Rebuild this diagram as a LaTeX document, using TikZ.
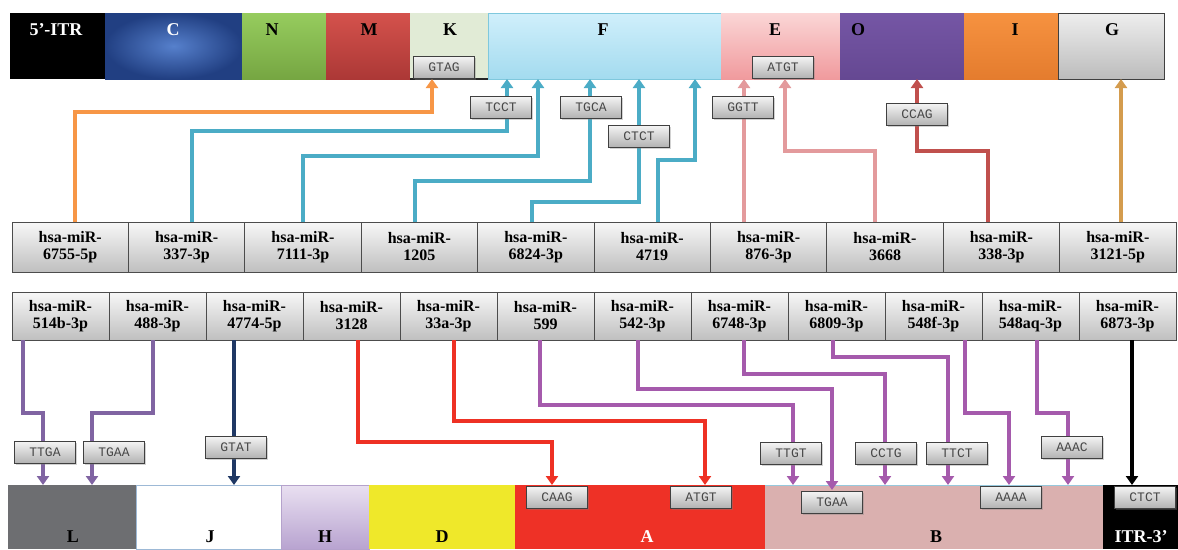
\documentclass[tikz,border=0pt]{standalone}
\usepackage{fontspec}
\setmainfont{Liberation Serif}
\newfontfamily\motiffont{Liberation Mono}
\usetikzlibrary{arrows.meta,shadows}
\definecolor{cOrange}{HTML}{F79646}
\definecolor{cTeal}{HTML}{4BACC6}
\definecolor{cPink}{HTML}{E39A9C}
\definecolor{cRed}{HTML}{C0504D}
\definecolor{cTan}{HTML}{D49C4E}
\definecolor{cPurple}{HTML}{8064A2}
\definecolor{cMagenta}{HTML}{A55AAC}
\definecolor{cNavy}{HTML}{1F3864}
\definecolor{cBright}{HTML}{EE3124}
\definecolor{cCin}{HTML}{5680CC}
\definecolor{cCout}{HTML}{213F82}
\definecolor{cBline}{HTML}{96C8DC}
\begin{document}
\begin{tikzpicture}[x=1pt,y=-1pt,
  seg/.style={anchor=north west,inner sep=0pt,outer sep=0pt},
  topseg/.style={seg,minimum height=66pt},
  botseg/.style={seg,minimum height=64pt},
  seglbl/.style={font=\bfseries\fontsize{18}{18}\selectfont,inner sep=0pt},
  mir/.style={draw=black!70,line width=0.8pt,top color=black!3,bottom color=black!25,inner sep=0pt,outer sep=0pt,align=center,font=\bfseries\fontsize{16}{17}\selectfont},
  motif/.style={draw=black!75,line width=0.9pt,top color=black!4,bottom color=black!30,drop shadow={shadow xshift=1.5pt,shadow yshift=-1.5pt,opacity=0.35},inner sep=0pt,outer sep=0pt,minimum width=61pt,minimum height=22pt,font=\motiffont\fontsize{13}{13}\selectfont,text=black!72},
  conn/.style={line width=4pt,-{Triangle[width=12pt,length=9pt]}}]
\useasboundingbox[fill=white] (0,0) rectangle (1178,549);

% ---------- top genome bar ----------
\node[topseg,fill=black,minimum width=95pt] (segITR) at (10,13) {};
\node[topseg,inner color=cCin,outer color=cCout,minimum width=137pt] (segC) at (105,13) {};
\node[topseg,top color={rgb,255:red,150;green,204;blue,94},bottom color={rgb,255:red,118;green,166;blue,66},minimum width=84pt] (segN) at (242,13) {};
\node[topseg,top color={rgb,255:red,212;green,82;blue,76},bottom color={rgb,255:red,172;green,56;blue,54},minimum width=84pt] (segM) at (326,13) {};
\node[topseg,fill={rgb,255:red,225;green,235;blue,214},minimum width=78pt] (segK) at (410,13) {};
\node[topseg,top color={rgb,255:red,208;green,239;blue,251},bottom color={rgb,255:red,163;green,219;blue,239},draw={rgb,255:red,127;green,200;blue,221},line width=0.6pt,minimum width=233pt] (segF) at (488,13) {};
\node[topseg,top color={rgb,255:red,251;green,214;blue,214},bottom color={rgb,255:red,240;green,154;blue,157},minimum width=119pt] (segE) at (721,13) {};
\node[topseg,top color={rgb,255:red,117;green,86;blue,165},bottom color={rgb,255:red,101;green,72;blue,146},minimum width=124pt] (segO) at (840,13) {};
\node[topseg,top color={rgb,255:red,246;green,146;blue,64},bottom color={rgb,255:red,228;green,124;blue,46},minimum width=94pt] (segI) at (964,13) {};
\node[topseg,top color={rgb,255:red,238;green,238;blue,238},bottom color={rgb,255:red,188;green,188;blue,188},draw=black!75,line width=1pt,minimum width=106pt] (segG) at (1058,13) {};
\draw[black!85,line width=2pt] (segK.south west) -- (segK.south east);

\node[seglbl,text=white] (lITR) at (56,30) {5’-ITR};
\node[seglbl,text=white] (lC) at (173,30) {C};
\node[seglbl] (lN) at (272,30) {N};
\node[seglbl] (lM) at (369,30) {M};
\node[seglbl] (lK) at (450,30) {K};
\node[seglbl] (lF) at (603,30) {F};
\node[seglbl] (lE) at (775,30) {E};
\node[seglbl] (lO) at (858,30) {O};
\node[seglbl] (lI) at (1015,30) {I};
\node[seglbl] (lG) at (1112,30) {G};

% ---------- bottom genome bar ----------
\node[botseg,fill={rgb,255:red,109;green,110;blue,113},minimum width=128pt] (segL) at (8,485) {};
\node[botseg,fill=white,draw={rgb,255:red,157;green,185;blue,214},line width=0.6pt,minimum width=145pt] (segJ) at (136,485) {};
\node[botseg,top color={rgb,255:red,233;green,224;blue,241},bottom color={rgb,255:red,184;green,163;blue,208},draw={rgb,255:red,181;green,162;blue,204},line width=0.6pt,minimum width=88pt] (segH) at (281,485) {};
\node[botseg,fill={rgb,255:red,239;green,232;blue,42},minimum width=146pt] (segD) at (369,485) {};
\node[botseg,fill={rgb,255:red,238;green,49;blue,38},minimum width=250pt] (segA) at (515,485) {};
\node[botseg,fill={rgb,255:red,218;green,176;blue,175},minimum width=338pt] (segB) at (765,485) {};
\node[botseg,fill=black,minimum width=75pt] (segI3) at (1103,485) {};
\draw[cBline,line width=1pt] (segB.north west) -- (segB.north east);

\node[seglbl] (lL) at (73,537) {L};
\node[seglbl] (lJ) at (210,537) {J};
\node[seglbl] (lH) at (325,537) {H};
\node[seglbl] (lD) at (442,537) {D};
\node[seglbl,text=white] (lA) at (647,537) {A};
\node[seglbl] (lB) at (936,537) {B};
\node[seglbl,text=white] (lI3) at (1141,537) {ITR-3’};

% ---------- miRNA rows ----------
\foreach \lab [count=\i] in {6755-5p,337-3p,7111-3p,1205,6824-3p,4719,876-3p,3668,338-3p,3121-5p}
  \node[mir,minimum width=116.4pt,minimum height=50pt] (a\i) at ({12+116.4*(\i-0.5)},247) {hsa-miR-\\\lab};
\foreach \lab [count=\i] in {514b-3p,488-3p,4774-5p,3128,33a-3p,599,542-3p,6748-3p,6809-3p,548f-3p,548aq-3p,6873-3p}
  \node[mir,minimum width=97pt,minimum height=48pt] (b\i) at ({12+97*(\i-0.5)},316) {hsa-miR-\\\lab};

% ---------- connectors to top bar ----------
\coordinate (s1) at ([xshift=4.8pt]a1.north);
\coordinate (s2) at ([xshift=5.4pt]a2.north);
\coordinate (s3) at (a3.north);
\coordinate (s4) at ([xshift=-4.4pt]a4.north);
\coordinate (s5) at ([xshift=-3.8pt]a5.north);
\coordinate (s6) at ([xshift=5.8pt]a6.north);
\coordinate (s7) at ([xshift=-24.6pt]a7.north);
\coordinate (s8) at ([xshift=-10pt]a8.north);
\coordinate (s9) at ([xshift=-13.4pt]a9.north);
\coordinate (s10) at ([xshift=3.2pt]a10.north);
\draw[conn,cOrange] (s1) -- ++(0,-110) -| ([xshift=-17pt]segK.south);
\draw[conn,cTeal] (s2) -- ++(0,-91) -| ([xshift=-97.5pt]segF.south);
\draw[conn,cTeal] (s3) -- ++(0,-66) -| ([xshift=-66.5pt]segF.south);
\draw[conn,cTeal] (s4) -- ++(0,-41) -| ([xshift=-14.5pt]segF.south);
\draw[conn,cTeal] (s5) -- ++(0,-20) -| ([xshift=34.5pt]segF.south);
\draw[conn,cTeal] (s6) -- ++(0,-62) -| ([xshift=90.5pt]segF.south);
\draw[conn,cPink] (s7) -- (s7 |- segE.south);
\draw[conn,cPink] (s8) -- ++(0,-71) -| ([xshift=4.5pt]segE.south);
\draw[conn,cRed] (s9) -- ++(0,-71) -| ([xshift=15pt]segO.south);
\draw[conn,cTan] (s10) -- (s10 |- segG.south);

% ---------- connectors to bottom bar ----------
\coordinate (t1) at ([xshift=-37.5pt]b1.south);
\coordinate (t2) at ([xshift=-4.5pt]b2.south);
\coordinate (t3) at ([xshift=-20.5pt]b3.south);
\coordinate (t4) at ([xshift=6.5pt]b4.south);
\coordinate (t5) at ([xshift=5.5pt]b5.south);
\coordinate (t6) at ([xshift=-5.5pt]b6.south);
\coordinate (t7) at ([xshift=-4.5pt]b7.south);
\coordinate (t8) at ([xshift=4.5pt]b8.south);
\coordinate (t9) at ([xshift=-3.5pt]b9.south);
\coordinate (t10) at ([xshift=31.5pt]b10.south);
\coordinate (t11) at ([xshift=6.5pt]b11.south);
\coordinate (t12) at ([xshift=4.5pt]b12.south);
\draw[conn,cPurple] (t1) -- ++(0,73) -| ([xshift=-29pt]segL.north);
\draw[conn,cPurple] (t2) -- ++(0,73) -| ([xshift=20pt]segL.north);
\draw[conn,cNavy] (t3) -- (t3 |- segJ.north);
\draw[conn,cBright] (t4) -- ++(0,102) -| ([xshift=-88pt]segA.north);
\draw[conn,cBright] (t5) -- ++(0,81) -| ([xshift=65pt]segA.north);
\draw[conn,cMagenta] (t6) -- ++(0,65) -| ([xshift=-141pt]segB.north);
\draw[conn,cMagenta] (t7) -- ++(0,49) -| ([xshift=-102pt,yshift=-5pt]segB.north);
\draw[conn,cMagenta] (t8) -- ++(0,34) -| ([xshift=-49pt]segB.north);
\draw[conn,cMagenta] (t9) -- ++(0,17) -| ([xshift=14pt]segB.north);
\draw[conn,cMagenta] (t10) -- ++(0,73) -| ([xshift=75pt]segB.north);
\draw[conn,cMagenta] (t11) -- ++(0,73) -| ([xshift=134pt]segB.north);
\draw[conn,black] (t12) -- (t12 |- segI3.north);

% ---------- motif boxes ----------
\node[motif] (mGTAG) at (444,67) {GTAG};
\node[motif] (mATGTtop) at (783,67) {ATGT};
\node[motif] (mTCCT) at (501,107) {TCCT};
\node[motif] (mTGCA) at (591,107) {TGCA};
\node[motif] (mCTCTtop) at (639,136) {CTCT};
\node[motif] (mGGTT) at (743,107) {GGTT};
\node[motif] (mCCAG) at (917,114) {CCAG};
\node[motif] (mTTGA) at (45,452) {TTGA};
\node[motif] (mTGAAl) at (114,452) {TGAA};
\node[motif] (mGTAT) at (236,447) {GTAT};
\node[motif] (mCAAG) at (557,497) {CAAG};
\node[motif] (mATGTbot) at (701,497) {ATGT};
\node[motif] (mTTGT) at (791,453) {TTGT};
\node[motif] (mTGAAb) at (832,502) {TGAA};
\node[motif] (mCCTG) at (886,453) {CCTG};
\node[motif] (mTTCT) at (957,453) {TTCT};
\node[motif] (mAAAA) at (1011,497) {AAAA};
\node[motif] (mAAAC) at (1072,447) {AAAC};
\node[motif] (mCTCTbot) at (1145,497) {CTCT};
\end{tikzpicture}
\end{document}
